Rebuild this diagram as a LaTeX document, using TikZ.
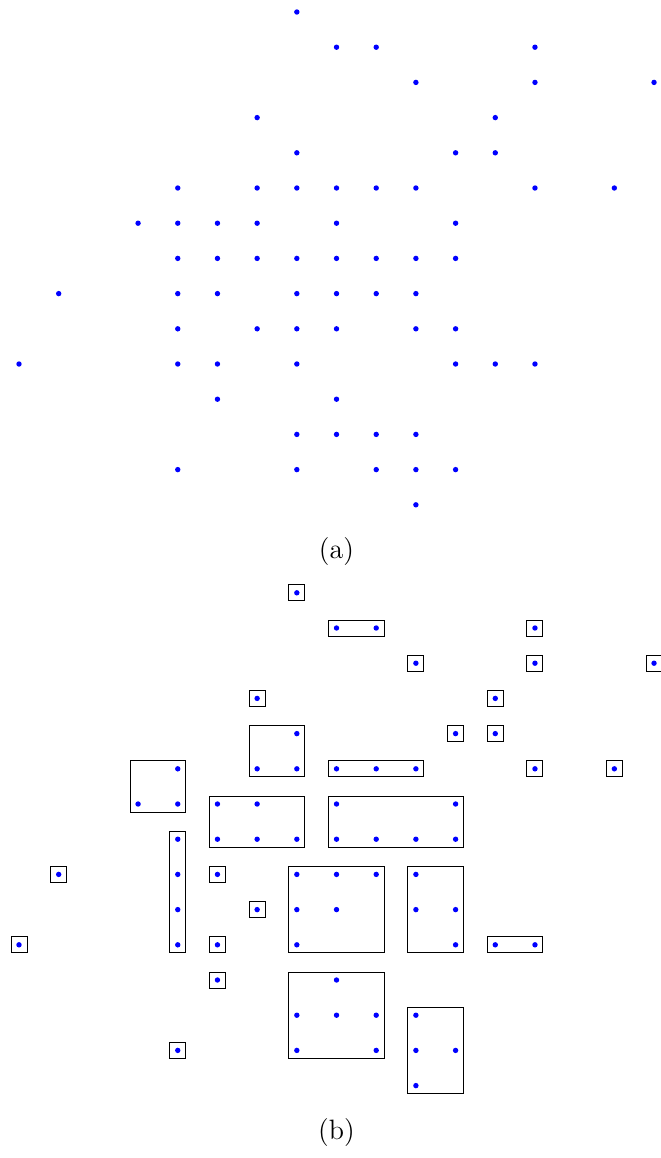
\documentclass[tikz,border=0pt]{standalone}

% sample positions as column/row on the unit grid
\newcommand{\samplelist}{7/0,
  8/1, 9/1, 13/1,
  10/2, 13/2, 16/2,
  6/3, 12/3,
  7/4, 11/4, 12/4,
  4/5, 6/5, 7/5, 8/5, 9/5, 10/5, 13/5, 15/5,
  3/6, 4/6, 5/6, 6/6, 8/6, 11/6,
  4/7, 5/7, 6/7, 7/7, 8/7, 9/7, 10/7, 11/7,
  1/8, 4/8, 5/8, 7/8, 8/8, 9/8, 10/8,
  4/9, 6/9, 7/9, 8/9, 10/9, 11/9,
  0/10, 4/10, 5/10, 7/10, 11/10, 12/10, 13/10,
  5/11, 8/11,
  7/12, 8/12, 9/12, 10/12,
  4/13, 7/13, 9/13, 10/13, 11/13,
  10/14}

\begin{document}
\begin{tikzpicture}[x=19.845pt, y=-17.6pt,
  sampledot/.style={fill=blue},
  cluster/.style={draw=black, line width=.5pt},
  caption/.style={anchor=base, font=\fontsize{14}{17}\selectfont}]
  \useasboundingbox (-9.5pt,6pt) rectangle (320.5pt,-573pt);

  % (a) the raw samples
  \foreach \col/\row in \samplelist
    \fill[sampledot] (\col,\row) circle (1.35pt);
  \node[caption] (lbla) at (8,15.52) {(a)};

  % (b) the same samples, grouped into boxes
  \begin{scope}[shift={(0,16.5)}]
    \foreach \col/\row in \samplelist
      \fill[sampledot] (\col,\row) circle (1.35pt);
    % single samples
    \foreach \col/\row in {7/0, 13/1, 10/2, 13/2, 16/2, 6/3, 12/3, 11/4, 12/4,
        13/5, 15/5, 1/8, 5/8, 6/9, 0/10, 5/10, 5/11, 4/13}
      \draw[cluster] ([shift={(-4pt,4pt)}]\col,\row) rectangle ([shift={(4pt,-4pt)}]\col,\row);
    % larger groups: first column/row, last column/row
    \foreach \ca/\ra/\cb/\rb in {8/1/9/1, 6/4/7/5, 8/5/10/5, 3/5/4/6, 5/6/7/7,
        8/6/11/7, 4/7/4/10, 7/8/9/10, 10/8/11/10, 12/10/13/10, 7/11/9/13, 10/12/11/14}
      \draw[cluster] ([shift={(-4pt,4pt)}]\ca,\ra) rectangle ([shift={(4pt,-4pt)}]\cb,\rb);
    \node[caption] (lblb) at (8,15.52) {(b)};
  \end{scope}
\end{tikzpicture}
\end{document}
